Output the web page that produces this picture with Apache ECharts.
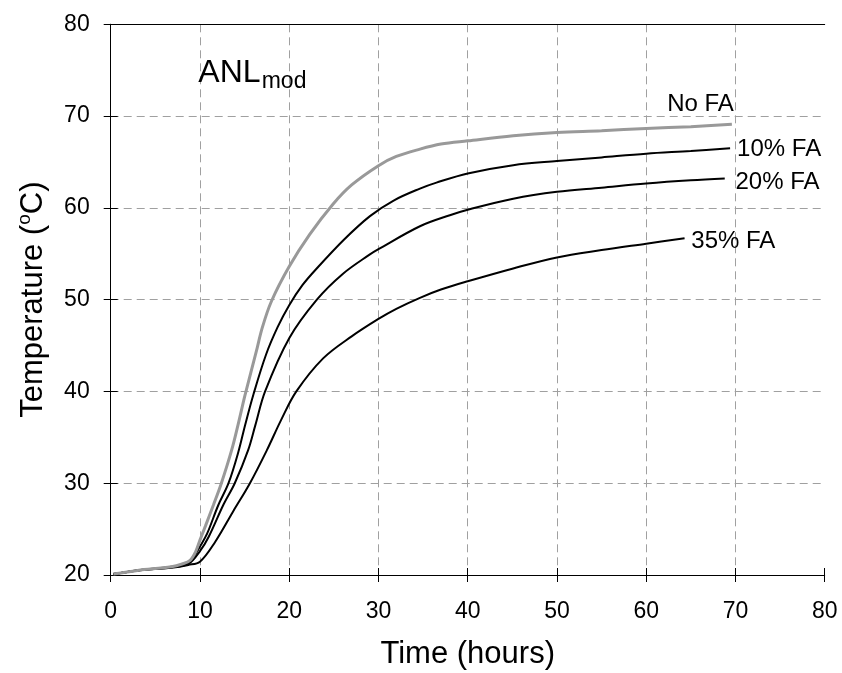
<!DOCTYPE html>
<html>
<head>
<meta charset="utf-8">
<script src="https://cdn.jsdelivr.net/npm/echarts@6/dist/echarts.min.js"></script>
<style>
  html, body { margin: 0; padding: 0; background: #fff; }
  #chart { width: 842px; height: 673px; }
</style>
</head>
<body>
<div id="chart"></div>
<script>
// Temperature rise over time for mixes with different fly-ash contents
const xTicks = [0, 10, 20, 30, 40, 50, 60, 70, 80];
const yTicks = [20, 30, 40, 50, 60, 70, 80];

// [time (h), temperature (°C)]
const noFA = [
  [0.3, 20.1], [3, 20.5], [6.8, 20.9], [8.0, 21.2], [8.9, 21.6], [9.5, 22.5],
  [10.0, 23.8], [10.6, 25.3], [11.5, 27.6], [12.4, 30.0], [13.55, 33.6],
  [14.3, 36.5], [15.05, 39.6], [16.3, 44.3], [17.0, 47.0], [18.0, 49.8],
  [20.0, 53.6], [22.3, 57.1], [24.9, 60.4], [27.0, 62.5], [30.0, 64.6],
  [32.0, 65.6], [34.65, 66.4], [37.0, 66.95], [40.0, 67.3], [45.1, 67.85],
  [50.0, 68.2], [55.0, 68.4], [60.0, 68.65], [65.0, 68.85], [69.6, 69.1]
];
const fa10 = [
  [0.3, 20.1], [3, 20.5], [6.8, 20.9], [8.5, 21.3], [9.3, 22.0], [10.0, 23.1],
  [10.8, 24.5], [12.05, 27.6], [13.2, 30.0], [14.3, 33.4], [15.05, 36.3],
  [16.0, 39.7], [17.4, 44.0], [18.7, 47.0], [20.0, 49.4], [21.5, 51.6],
  [22.9, 53.2], [26.1, 56.5], [29.05, 59.1], [31.7, 60.8], [34.65, 62.1],
  [36.5, 62.75], [40.0, 63.75], [45.1, 64.65], [50.0, 65.1], [55.0, 65.5],
  [60.0, 65.9], [65.0, 66.2], [69.4, 66.5]
];
const fa20 = [
  [0.3, 20.1], [3, 20.5], [6.8, 20.85], [8.7, 21.2], [10.0, 22.6], [11.0, 24.2],
  [12.6, 27.6], [13.9, 30.0], [15.4, 33.6], [16.2, 36.3], [17.3, 40.0],
  [20.0, 45.8], [23.1, 50.0], [26.0, 52.8], [29.0, 54.9], [30.0, 55.5],
  [34.65, 58.0], [38.0, 59.2], [40.0, 59.8], [45.1, 61.0], [50.0, 61.75],
  [55.0, 62.2], [60.0, 62.65], [65.0, 63.0], [68.8, 63.2]
];
const fa35 = [
  [0.3, 20.1], [3, 20.5], [6.8, 20.8], [8.7, 21.1], [10.0, 21.45], [11.7, 23.6],
  [13.7, 26.9], [15.6, 30.0], [17.5, 33.6], [19.1, 36.9], [20.8, 40.0],
  [23.8, 43.6], [27.0, 46.0], [30.0, 47.9], [32.0, 49.0], [34.65, 50.2],
  [37.0, 51.1], [40.0, 52.0], [45.1, 53.4], [50.0, 54.6], [55.0, 55.4],
  [60.0, 56.1], [64.3, 56.7]
];

const FONT = "'Liberation Sans', Arial, sans-serif";
const chart = echarts.init(document.getElementById('chart'), null, { renderer: 'canvas' });

const gridLine = { show: true, showMinLine: false, showMaxLine: false,
  lineStyle: { color: '#a0a0a0', width: 1, type: [8, 5] } };

function curve(name, data, color, width, labelOffset) {
  return {
    name: name, type: 'line', data: data, xAxisIndex: 0, yAxisIndex: 0,
    showSymbol: false, symbol: 'none', smooth: 0.35,
    lineStyle: { color: color, width: width },
    endLabel: {
      show: true, formatter: name, distance: 0, align: 'left', verticalAlign: 'middle',
      offset: labelOffset, color: '#000', fontFamily: FONT, fontSize: 24
    },
    z: 5
  };
}

chart.setOption({
  animation: false,
  backgroundColor: '#fff',
  grid: { left: 110.7, right: 17.3, top: 24.3, bottom: 98, containLabel: false, outerBoundsMode: 'none' },
  xAxis: [
    {
      type: 'value', position: 'bottom', min: xTicks[0], max: xTicks[xTicks.length - 1], interval: 10,
      name: 'Time (hours)', nameLocation: 'middle', nameGap: 64,
      nameTextStyle: { fontFamily: FONT, fontSize: 31, color: '#000' },
      axisLine: { show: true, onZero: false, lineStyle: { color: '#000', width: 1 } },
      axisTick: { show: true, inside: false, length: 7, lineStyle: { color: '#000' } },
      axisLabel: { fontFamily: FONT, fontSize: 23, color: '#000', margin: 25 },
      splitLine: gridLine
    },
    {
      type: 'value', position: 'bottom', min: xTicks[0], max: xTicks[xTicks.length - 1], interval: 10,
      axisLine: { show: false }, axisLabel: { show: false }, splitLine: { show: false },
      axisTick: { show: true, inside: true, length: 7, lineStyle: { color: '#000' } }
    },
    {
      type: 'value', position: 'top', min: xTicks[0], max: xTicks[xTicks.length - 1],
      axisLine: { show: true, lineStyle: { color: '#000', width: 1 } },
      axisTick: { show: false }, axisLabel: { show: false }, splitLine: { show: false }
    }
  ],
  yAxis: [
    {
      type: 'value', position: 'left', min: yTicks[0], max: yTicks[yTicks.length - 1], interval: 10,
      name: '{a|Temperature (}{s|o}{a|C)}', nameLocation: 'middle', nameGap: 60,
      nameTextStyle: {
        fontFamily: FONT, color: '#000',
        rich: {
          a: { fontFamily: FONT, fontSize: 31, color: '#000' },
          s: { fontFamily: FONT, fontSize: 19, color: '#000', padding: [0, 0, 16, 0] }
        }
      },
      axisLine: { show: true, onZero: false, lineStyle: { color: '#000', width: 1 } },
      axisTick: { show: true, inside: false, length: 7, lineStyle: { color: '#000' } },
      axisLabel: { fontFamily: FONT, fontSize: 23, color: '#000', margin: 21 },
      splitLine: gridLine
    },
    {
      type: 'value', position: 'left', min: yTicks[0], max: yTicks[yTicks.length - 1], interval: 10,
      axisLine: { show: false }, axisLabel: { show: false }, splitLine: { show: false },
      axisTick: { show: true, inside: true, length: 7, lineStyle: { color: '#000' } }
    },
    {
      type: 'value', position: 'right', min: yTicks[0], max: yTicks[yTicks.length - 1],
      axisLine: { show: true, lineStyle: { color: '#000', width: 1 } },
      axisTick: { show: false }, axisLabel: { show: false }, splitLine: { show: false }
    }
  ],
  graphic: [
    { type: 'text', left: 198.3, top: 57, z: 10,
      style: { text: 'ANL', font: "32px 'Liberation Sans', Arial, sans-serif", fill: '#000' } },
    { type: 'text', left: 261.7, top: 70, z: 10,
      style: { text: 'mod', font: "23px 'Liberation Sans', Arial, sans-serif", fill: '#000' } }
  ],
  series: [
    curve('35% FA', fa35, '#000', 2, [6.7, 3.7]),
    curve('20% FA', fa20, '#000', 2, [10.7, 3.4]),
    curve('10% FA', fa10, '#000', 2, [7, 1]),
    curve('No FA', noFA, '#999', 3, [-64.7, -19.5])
  ]
});
</script>
</body>
</html>
